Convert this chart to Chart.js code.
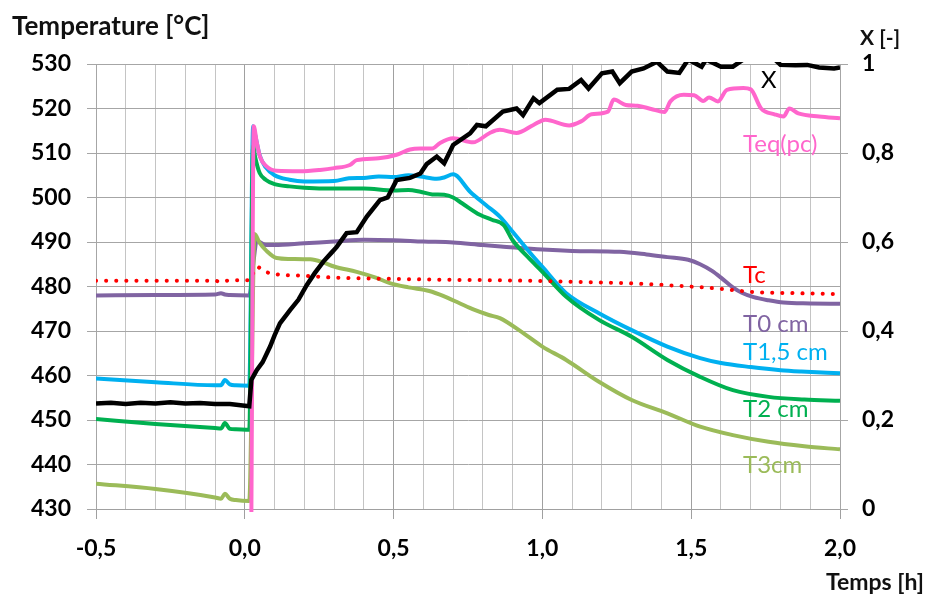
<!DOCTYPE html>
<html>
<head>
<meta charset="utf-8">
<script src="https://cdn.jsdelivr.net/npm/chart.js@4.4.1/dist/chart.umd.min.js"></script>
<style>
html,body{margin:0;padding:0;background:#fff;}
canvas{display:block;}
</style>
</head>
<body>
<canvas id="c" width="927" height="595"></canvas>
<script>
// ---- data (time in h) ----
const tT0 = [-0.5,-0.3,-0.1,-0.08,-0.067,-0.05,0.015,0.03,0.04,0.07,0.1,0.2,0.3,0.4,0.5,0.6,0.7,0.8,0.86,1.0,1.1,1.26,1.35,1.42,1.49,1.53,1.57,1.6,1.64,1.67,1.71,1.76,1.81,1.9,2.0];
const vT0 = [478.0,478.1,478.2,478.5,478.2,478.1,478.0,486.0,490.3,489.3,489.3,489.7,490.1,490.5,490.4,490.1,489.9,489.3,489.0,488.3,488.0,487.8,487.2,486.6,486.0,485.0,483.5,482.0,479.8,478.6,477.6,476.9,476.4,476.2,476.1];

const tT15 = [-0.5,-0.3,-0.1,-0.08,-0.067,-0.05,-0.03,0.015,0.028,0.035,0.05,0.07,0.1,0.15,0.2,0.3,0.35,0.4,0.45,0.5,0.55,0.59,0.645,0.67,0.7,0.757,0.81,0.857,0.9,0.947,1.0,1.08,1.19,1.3,1.42,1.53,1.6,1.7,1.8,1.87,2.0];
const vT15 = [459.3,458.5,457.8,457.8,459.0,458.0,457.8,457.7,516.0,514.0,509.5,506.8,505.0,504.0,503.6,503.7,504.3,504.4,504.7,504.6,505.0,504.7,504.2,504.5,505.2,501.3,498.3,495.7,492.3,488.5,484.4,478.5,474.0,470.2,466.5,463.9,462.8,461.9,461.2,460.9,460.5];

const tT2 = [-0.5,-0.3,-0.1,-0.08,-0.067,-0.05,-0.03,0.015,0.028,0.035,0.05,0.07,0.1,0.15,0.2,0.3,0.4,0.5,0.55,0.59,0.63,0.67,0.7,0.73,0.79,0.83,0.87,0.9,0.95,1.0,1.08,1.19,1.3,1.42,1.53,1.64,1.76,1.88,2.0];
const vT2 = [450.2,449.1,448.2,448.1,449.3,448.0,447.9,447.8,511.5,509.0,505.5,504.0,503.0,502.5,502.2,502.0,502.0,501.6,501.7,501.3,500.7,500.6,500.0,498.7,496.1,495.0,493.8,490.4,486.7,483.3,477.7,472.5,468.7,463.5,459.7,456.7,455.2,454.6,454.3];

const tT3 = [-0.5,-0.3,-0.1,-0.08,-0.067,-0.05,-0.03,0.015,0.033,0.05,0.073,0.107,0.15,0.22,0.26,0.3,0.376,0.44,0.49,0.55,0.62,0.67,0.72,0.77,0.82,0.857,0.93,1.0,1.08,1.19,1.3,1.42,1.53,1.64,1.76,1.88,2.0];
const vT3 = [435.7,434.5,432.6,432.3,433.4,432.3,432.0,431.8,491.8,489.8,488.0,486.4,486.2,486.1,485.5,484.5,483.3,482.0,480.7,479.8,479.0,477.8,476.3,474.8,473.6,472.9,469.8,466.5,463.5,458.6,454.5,451.5,448.5,446.6,445.1,444.1,443.4];

const tTc = [-0.5,-0.3,-0.1,-0.08,-0.06,0.0,0.015,0.04,0.07,0.1,0.2,0.3,0.5,0.7,0.857,1.08,1.3,1.47,1.58,1.7,1.85,2.0];
const vTc = [481.3,481.3,481.3,481.0,481.3,481.4,481.4,484.4,483.3,482.8,482.4,482.0,481.7,481.5,481.4,481.1,480.7,480.1,479.6,478.8,478.5,478.3];

const tTeq = [0.022,0.03,0.04,0.051,0.073,0.107,0.186,0.253,0.3,0.353,0.376,0.45,0.51,0.555,0.59,0.63,0.655,0.7,0.767,0.823,0.857,0.913,0.97,1.01,1.09,1.13,1.165,1.22,1.24,1.28,1.32,1.365,1.41,1.43,1.475,1.51,1.54,1.56,1.59,1.62,1.675,1.7,1.735,1.78,1.81,1.83,1.86,1.93,2.0];
const vTeq = [428,516.0,512.5,509.2,507.0,506.0,505.9,506.2,506.6,507.3,508.4,508.8,509.6,510.8,511.0,511.0,512.2,513.3,512.4,514.5,515.2,514.5,516.3,517.5,516.2,517.1,518.7,519.3,522.0,520.8,520.6,519.9,519.2,521.6,523.1,523.0,521.7,522.5,521.6,524.2,524.6,524.3,520.0,518.7,518.2,520.0,518.9,518.2,517.8];

const tX = [-0.5,-0.45,-0.4,-0.35,-0.3,-0.25,-0.2,-0.15,-0.1,-0.05,0.0,0.015,0.022,0.04,0.06,0.085,0.1,0.118,0.152,0.18,0.208,0.235,0.264,0.29,0.309,0.342,0.376,0.41,0.454,0.48,0.51,0.555,0.59,0.611,0.645,0.67,0.7,0.757,0.78,0.81,0.867,0.913,0.935,0.97,0.99,1.05,1.09,1.13,1.155,1.2,1.235,1.26,1.3,1.34,1.385,1.42,1.46,1.49,1.535,1.55,1.6,1.64,1.675,1.7,1.75,1.8,1.85,1.89,1.93,1.98,2.0];
const vX = [0.237,0.239,0.236,0.239,0.237,0.240,0.237,0.238,0.236,0.236,0.232,0.231,0.29,0.312,0.33,0.365,0.39,0.417,0.447,0.47,0.503,0.53,0.556,0.575,0.589,0.62,0.622,0.657,0.694,0.70,0.739,0.744,0.754,0.775,0.792,0.777,0.818,0.844,0.863,0.86,0.893,0.9,0.885,0.923,0.912,0.942,0.944,0.964,0.945,0.979,0.983,0.957,0.983,0.99,1.005,0.983,0.98,1.01,0.994,1.01,0.994,0.994,1.01,1.03,1.03,0.998,0.997,0.998,0.992,0.99,0.992];

const xTicks = [-0.5,0.0,0.5,1.0,1.5,2.0];
const yTicks = [430,440,450,460,470,480,490,500,510,520,530];
const y2Ticks = [0,0.2,0.4,0.6,0.8,1];

const seriesLabels = ['X','Teq(pc)','Tc','T0 cm','T1,5 cm','T2 cm','T3cm'];

function pts(t, v){ return t.map((x,i)=>({x:x, y:v[i]})); }

const FONT = 'Lato, "Open Sans", sans-serif';

const labelPlugin = {
  id:'labels',
  afterDraw(chart){
    const c = chart.ctx;
    c.save();
    c.textBaseline = 'alphabetic';
    c.fillStyle = '#111';
    c.font = 'bold 26px ' + FONT;
    c.textAlign = 'left';
    c.fillText('Temperature [°C]', 12, 35);
    c.font = 'bold 21px ' + FONT;
    c.fillText('X [-]', 860, 45);
    c.font = 'bold 23px ' + FONT;
    c.textAlign = 'right';
    c.fillText('Temps [h]', 924, 590);
    c.textAlign = 'left';
    c.font = '24px ' + FONT;
    const anns = [
      [seriesLabels[0], '#000000', 761, 88],
      [seriesLabels[1], '#FF66CC', 743, 152],
      [seriesLabels[2], '#FF0000', 743, 283],
      [seriesLabels[3], '#8064A2', 743, 332],
      [seriesLabels[4], '#00B0F0', 743, 360],
      [seriesLabels[5], '#00B050', 743, 417],
      [seriesLabels[6], '#9BBB59', 743, 473]
    ];
    anns.forEach(a=>{ c.fillStyle=a[1]; c.fillText(a[0], a[2], a[3]); });
    c.restore();
  }
};

const base = {pointRadius:0, borderWidth:4, fill:false, cubicInterpolationMode:'monotone', clip:{left:0,right:0,top:2,bottom:3}};

new Chart(document.getElementById('c'), {
  type:'line',
  data:{ datasets:[
    Object.assign({}, base, {label:seriesLabels[0], data:pts(tX,vX), yAxisID:'y1', borderColor:'#000000', borderWidth:4.5, tension:0, cubicInterpolationMode:'default', order:0}),
    Object.assign({}, base, {label:seriesLabels[1], data:pts(tTeq,vTeq), yAxisID:'y', borderColor:'#FF66CC', order:1}),
    Object.assign({}, base, {label:seriesLabels[2], data:pts(tTc,vTc), yAxisID:'y', borderColor:'#FF0000', borderWidth:4, borderDash:[0.1,10], borderCapStyle:'round', order:2}),
    Object.assign({}, base, {label:seriesLabels[5], data:pts(tT2,vT2), yAxisID:'y', borderColor:'#00B050', order:3}),
    Object.assign({}, base, {label:seriesLabels[4], data:pts(tT15,vT15), yAxisID:'y', borderColor:'#00B0F0', order:4}),
    Object.assign({}, base, {label:seriesLabels[6], data:pts(tT3,vT3), yAxisID:'y', borderColor:'#9BBB59', order:5}),
    Object.assign({}, base, {label:seriesLabels[3], data:pts(tT0,vT0), yAxisID:'y', borderColor:'#8064A2', order:6})
  ]},
  options:{
    responsive:false, animation:false, devicePixelRatio:1,
    layout:{padding:{top:64,left:0,right:0,bottom:0}},
    plugins:{legend:{display:false}, tooltip:{enabled:false}},
    scales:{
      x:{ type:'linear', min:-0.5, max:2.0,
        afterFit:(s)=>{ s.height = 86; },
        ticks:{ stepSize:0.1, autoSkip:false, maxRotation:0, minRotation:0, padding:16, color:'#000',
          font:{family:FONT, size:23, weight:'bold'},
          callback:(v)=>{ const r=Math.round(v*10); const ok = xTicks.some(t=>Math.round(t*10)===r); return ok ? (r/10).toFixed(1).replace('.',',') : ''; } },
        grid:{ color:(ctx)=>{ const r=Math.round(ctx.tick.value*10); return r%5===0 ? '#a0a0a0' : '#c4c4c4'; },
          tickColor:(ctx)=>{ const r=Math.round(ctx.tick.value*10); return r%5===0 ? '#a0a0a0' : 'rgba(0,0,0,0)'; },
          tickLength:10, lineWidth:1 },
        border:{color:'#a0a0a0'}
      },
      y:{ position:'left', min:430, max:530,
        afterFit:(s)=>{ s.width = 96; },
        afterBuildTicks:(s)=>{ s.ticks = yTicks.map(v=>({value:v})); },
        ticks:{ padding:16, color:'#000', font:{family:FONT, size:23, weight:'bold'} },
        grid:{ color:'#a6a6a6', tickColor:'#a6a6a6', tickLength:9, lineWidth:1 },
        border:{color:'#a6a6a6'}
      },
      y1:{ position:'right', min:0, max:1,
        afterFit:(s)=>{ s.width = 87; },
        afterBuildTicks:(s)=>{ s.ticks = y2Ticks.map(v=>({value:v})); },
        ticks:{ padding:14, color:'#000', font:{family:FONT, size:23, weight:'bold'},
          callback:(v)=>{ const r=Math.round(v*10)/10; return (r===0||r===1) ? String(r) : r.toFixed(1).replace('.',','); } },
        grid:{ drawOnChartArea:false, color:'#a6a6a6', tickColor:'#a6a6a6', tickLength:8 },
        border:{color:'#a6a6a6'}
      }
    }
  },
  plugins:[labelPlugin]
});
</script>
</body>
</html>
